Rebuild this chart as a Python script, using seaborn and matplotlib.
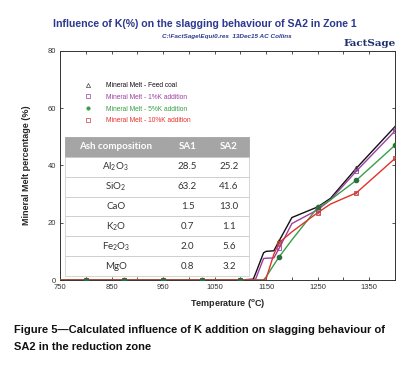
import matplotlib
matplotlib.use("Agg")
import matplotlib.pyplot as plt
import seaborn as sns
from matplotlib.lines import Line2D
from matplotlib.patches import Rectangle

# Temperature grid (deg C) and mineral melt (%) per case
temps = [750, 800, 875, 950, 1025, 1100, 1125, 1130, 1145, 1150, 1165, 1175,
         1200, 1250, 1275, 1325, 1400]
mark_temps = [800, 875, 950, 1025, 1100, 1175, 1250, 1325, 1400]

feed_coal = [0, 0, 0, 0, 0, 0, 0.3, 2.5, 9.5, 10.0, 10.2, 13.6, 21.8, 25.5, 28.5, 39.0, 53.5]
k1_add = [0, 0, 0, 0, 0, 0, 0, 0.5, 7.5, 7.6, 7.7, 11.0, 19.7, 24.5, 28.0, 38.0, 52.0]
k5_add = [0, 0, 0, 0, 0, 0, 0, 0, 0, 1.1, 5.3, 8.0, 14.0, 25.3, 28.0, 34.8, 47.0]
k10_add = [0, 0, 0, 0, 0, 0, 0, 0, 0, 0.5, 9.0, 13.0, 16.8, 23.5, 26.5, 30.4, 42.4]

series_labels = ["Mineral Melt - Feed coal", "Mineral Melt - 1%K addition",
                 "Mineral Melt - 5%K addition", "Mineral Melt - 10%K addition"]
series_colors = ["#111111", "#9c3fa3", "#3a9e47", "#e2332b"]

x_ticks = [750, 850, 950, 1050, 1150, 1250, 1350]
y_ticks = [0, 20, 40, 60, 80]

# ash composition table
oxides = ["Al$_2$O$_3$", "SiO$_2$", "CaO", "K$_2$O", "Fe$_2$O$_3$", "MgO"]
sa1 = ["28.5", "63.2", "1.5", "0.7", "2.0", "0.8"]
sa2 = ["25.2", "41.6", "13.0", "1.1", "5.6", "3.2"]

sns.set_style("ticks")
plt.rcParams["font.family"] = ["Liberation Sans", "DejaVu Sans"]
plt.rcParams["mathtext.default"] = "regular"

fig = plt.figure(figsize=(4.09, 3.68), dpi=100)
ax = fig.add_axes([0.1467, 0.2391, 0.819, 0.6231])

mark_idx = [temps.index(t) for t in mark_temps]
all_series = [feed_coal, k1_add, k5_add, k10_add]
for vals, col, z in zip(all_series, series_colors, [3, 3, 3, 4]):
    sns.lineplot(x=temps, y=vals, color=col, lw=1.0, ax=ax, zorder=z,
                 estimator=None, sort=False)

# markers
mk_t = [temps[i] for i in mark_idx]
ax.plot(mk_t, [feed_coal[i] for i in mark_idx], ls="none", marker="^", ms=3.5,
        mfc="none", mec="#444444", mew=0.6, zorder=5)
ax.plot(mk_t, [k1_add[i] for i in mark_idx], ls="none", marker="s", ms=3.2,
        mfc="none", mec="#9c3fa3", mew=0.6, zorder=5)
ax.plot(mk_t, [k10_add[i] for i in mark_idx], ls="none", marker="s", ms=3.2,
        mfc="none", mec="#c04040", mew=0.6, zorder=5)
ax.plot(mk_t, [k10_add[i] for i in mark_idx], ls="none", marker="x", ms=2.0,
        mec="#c04040", mew=0.5, zorder=5)
ax.plot(mk_t, [k5_add[i] for i in mark_idx], ls="none", marker="o", ms=3.0,
        mfc="#2f6b3c", mec="#2f6b3c", zorder=6)

ax.set_xlim(750, 1400)
ax.set_ylim(0, 80)
ax.set_xticks(x_ticks)
ax.set_xticks(range(800, 1400, 100), minor=True)
ax.set_yticks(y_ticks)
ax.tick_params(axis="both", which="both", direction="in", top=True, right=True,
               labelsize=5.5, colors="#333333", length=2.5, width=0.6, pad=3)
ax.tick_params(axis="y", labelright=False)
for s in ax.spines.values():
    s.set_linewidth(0.7)
    s.set_color("#333333")
ax.set_xlabel("Temperature ($^{o}$C)", fontsize=6.5, fontweight="bold", labelpad=4)
ax.set_ylabel("Mineral Melt percentage (%)", fontsize=6.5, fontweight="bold", labelpad=12)

# legend
handles = [
    Line2D([], [], ls="none", marker="^", ms=3, mfc="none", mec="#444444", mew=0.5),
    Line2D([], [], ls="none", marker="s", ms=3, mfc="none", mec="#9c3fa3", mew=0.5),
    Line2D([], [], ls="none", marker="o", ms=2, mfc="#3a9e47", mec="#3a9e47"),
    Line2D([], [], ls="none", marker="s", ms=3, mfc="none", mec="#c04040", mew=0.5),
]
ax.legend(handles, series_labels, loc="upper left", bbox_to_anchor=(0.045, 0.89),
          frameon=False, fontsize=4.8, labelspacing=0.72, handletextpad=1.8,
          labelcolor=series_colors)

# composition table
tbox = [0.015, 0.017, 0.55, 0.607]
ax.add_patch(Rectangle((tbox[0], tbox[1]), tbox[2], tbox[3], transform=ax.transAxes,
                       facecolor="white", edgecolor="none", zorder=6.8))
cells = [[o, a, b] for o, a, b in zip(oxides, sa1, sa2)]
tab = ax.table(cellText=cells, colLabels=["Ash composition", "SA1", "SA2"],
               bbox=tbox, cellLoc="center", colWidths=[0.55, 0.23, 0.22], zorder=7)
tab.auto_set_font_size(False)
for (r, c), cell in tab.get_celld().items():
    txt = cell.get_text()
    txt.set_fontfamily(["Lato", "DejaVu Sans"])
    cell.set_linewidth(0.6)
    if r == 0:
        cell.set_facecolor("#a5a5a5")
        cell.set_edgecolor("#a5a5a5")
        txt.set_color("white")
        txt.set_fontweight("bold")
        txt.set_fontsize(7.0)
        if c == 0:
            cell._loc = "left"
            cell.PAD = 0.07
    else:
        cell.set_facecolor("none")
        cell.set_edgecolor("#cfcfcf")
        cell.visible_edges = "TB" + ("L" if c == 0 else "") + ("R" if c == 2 else "")
        txt.set_color("#333333")
        txt.set_fontsize(7.0)

# titles and caption
fig.text(0.5, 0.935, "Influence of K(%) on the slagging behaviour of SA2 in Zone 1",
         ha="center", va="center", fontsize=7.6, fontweight="bold", color="#2b3990")
fig.text(0.555, 0.9, "C:\\FactSage\\Equi0.res  13Dec15 AC Collins", ha="center",
         va="center", fontsize=4.6, fontweight="bold", style="italic", color="#2b3990")
fig.text(0.84, 0.882, "FactSage", ha="left", va="center", fontsize=7.5,
         fontweight="bold", color="#1f2f6e", family=["DejaVu Serif"])
fig.text(0.034, 0.103, "Figure 5\u2014Calculated influence of K addition on slagging behaviour of",
         ha="left", va="center", fontsize=8.0, fontweight="bold", color="#111111")
fig.text(0.034, 0.058, "SA2 in the reduction zone",
         ha="left", va="center", fontsize=8.0, fontweight="bold", color="#111111")

fig.savefig("out.png", dpi=100, facecolor="white")
